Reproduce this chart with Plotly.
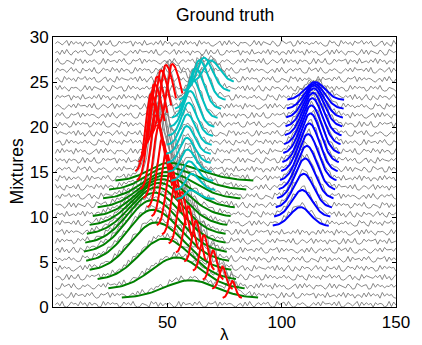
import numpy as np
import plotly.graph_objects as go

# ---------------- data ----------------
LAMBDA = list(range(1, 151))          # wavelength samples
MIXTURE_ROWS = list(range(0, 30))     # gray observed mixtures (offset rows)
GRAY_BASE_OFFSET = 0.3

# hand-typed noise digits (0-9) used for the observed gray spectra
NOISE_DIGITS = (
    "4729103856294718365019384756028473920165"
    "3095817264730291845628493017569183746520"
    "4618293057375820194682930164751047382956"
    "6382910475259183746074650291833910284756"
    "8074619235273918460551829374609374610258"
    "1829374065640392817532850197467019384625"
    "4836201957209473618559374810268162093754"
    "37481926059207318465159372084"
)

# green component: mixtures 1..14
GREEN_MIX = [1, 2, 3, 4, 5, 6, 7, 8, 9, 10, 11, 12, 13, 14]
GREEN_CENTER = [60.0, 54.0, 48.5, 45.0, 43.5, 43.5, 44.5, 45.5, 46.5, 47.5, 48.5, 49.5, 50.0, 50.5]
GREEN_AMP = [1.97, 3.5, 4.6, 5.4, 5.8, 5.9, 5.7, 5.3, 4.8, 4.2, 3.6, 3.0, 2.5, 2.0]
GREEN_SIG_L = [11.1, 11.0, 10.7, 10.7, 10.7, 11.1, 11.3, 11.4, 11.3, 11.1, 10.7, 10.2, 9.4, 8.6]
GREEN_SIG_R = [11.0, 11.0, 11.7, 12.2, 12.4, 12.0, 11.5, 11.1, 11.0, 11.2, 11.5, 12.0, 12.8, 13.7]
GREEN_START = [30.1, 24.2, 19.5, 16.0, 14.5, 13.5, 14.1, 14.8, 16.0, 17.4, 19.5, 21.9, 24.5, 27.3]
GREEN_END = [89.7, 83.8, 80.0, 78.0, 77.0, 76.0, 75.5, 75.5, 76.2, 77.7, 79.5, 82.0, 84.5, 87.6]

# red component: mixtures 1..20
RED_MIX = list(range(1, 21))
RED_CENTER = [78.4, 74.1, 70.0, 66.0, 62.5, 59.2, 56.3, 53.7, 51.4, 49.4,
              47.6, 46.1, 44.8, 43.6, 42.9, 44.3, 45.5, 47.2, 49.3, 52.1]
RED_AMP = [1.9, 2.5, 3.3, 4.0, 4.6, 5.2, 5.8, 6.3, 6.8, 7.2,
           7.6, 8.0, 8.3, 8.6, 8.7, 8.8, 8.6, 8.3, 7.9, 7.0]
RED_SIG_L = [1.4, 1.5, 1.5, 1.6, 1.7, 1.8, 1.9, 2.0, 2.0, 2.1,
             2.1, 2.2, 2.2, 2.3, 2.3, 2.3, 2.3, 2.3, 2.3, 2.3]
RED_SIG_R = [1.4, 1.5, 1.6, 1.7, 1.8, 2.0, 2.2, 2.4, 2.6, 2.8,
             3.0, 3.2, 3.4, 3.6, 3.8, 4.0, 4.0, 4.0, 4.0, 4.0]
RED_START = [74.2, 69.6, 65.5, 61.2, 57.4, 53.8, 50.6, 47.7, 45.4, 43.1,
             41.3, 39.5, 38.2, 36.7, 36.0, 37.4, 38.6, 40.3, 42.4, 45.2]
RED_END = [82.6, 78.6, 74.5, 70.5, 67.0, 63.7, 60.8, 58.2, 55.9, 53.9,
           52.1, 50.6, 49.3, 48.1, 47.4, 48.8, 50.0, 51.7, 53.8, 56.6]

# cyan component: mixtures 12..25
CYAN_MIX = list(range(12, 26))
CYAN_CENTER = [60.0, 60.5, 59.5, 58.8, 58.5, 58.5, 58.8, 59.3, 60.0, 61.0, 62.3, 64.0, 66.0, 69.0]
CYAN_AMP = [1.0, 1.8, 2.2, 2.5, 2.8, 3.1, 3.4, 3.7, 4.0, 4.3, 4.5, 4.4, 3.7, 2.4]
CYAN_SIG_L = [2.0, 2.4, 2.6, 2.8, 2.9, 3.0, 3.0, 3.0, 3.0, 3.0, 3.0, 3.0, 3.0, 3.0]
CYAN_SIG_R = [3.5, 3.5, 3.5, 3.5, 3.5, 3.5, 3.5, 3.5, 3.5, 3.6, 3.7, 3.8, 3.8, 3.8]
CYAN_START = [54.0, 53.3, 51.7, 50.4, 49.8, 49.5, 49.8, 50.3, 51.0, 52.0, 53.3, 55.0, 57.0, 60.0]
CYAN_END = [70.6, 71.0, 70.0, 69.4, 69.0, 69.0, 69.4, 70.0, 70.6, 72.0, 73.5, 75.5, 77.5, 79.1]

# blue component: mixtures 9..23
BLUE_MIX = list(range(9, 24))
BLUE_CENTER = [108.2, 108.9, 109.6, 110.3, 111.0, 111.6, 112.1, 112.6, 113.0, 113.4,
               113.7, 114.0, 114.2, 114.4, 114.5]
BLUE_AMP = [2.1, 3.0, 3.8, 4.5, 4.9, 5.2, 5.4, 5.5, 5.4, 5.2, 4.8, 4.3, 3.6, 2.8, 2.0]
BLUE_SIG = [4.4] * 15
BLUE_START = [96.1, 96.7, 97.4, 98.0, 98.7, 99.3, 99.8, 100.3, 100.7, 101.1,
              101.4, 101.7, 102.0, 102.3, 102.5]
BLUE_END = [120.6, 121.3, 122.0, 122.7, 123.4, 124.0, 124.5, 125.0, 125.4, 125.8,
            126.2, 126.5, 126.8, 127.1, 127.3]

X_TICKS = [50, 100, 150]
Y_TICKS = [0, 5, 10, 15, 20, 25, 30]

COMPONENTS = [
    # name, colour, mixtures, centre, amp, sigL, sigR, start, end
    ("green", "#008000", GREEN_MIX, GREEN_CENTER, GREEN_AMP, GREEN_SIG_L, GREEN_SIG_R, GREEN_START, GREEN_END),
    ("red", "#FF0000", RED_MIX, RED_CENTER, RED_AMP, RED_SIG_L, RED_SIG_R, RED_START, RED_END),
    ("cyan", "#00BFBF", CYAN_MIX, CYAN_CENTER, CYAN_AMP, CYAN_SIG_L, CYAN_SIG_R, CYAN_START, CYAN_END),
    ("blue", "#0000FF", BLUE_MIX, BLUE_CENTER, BLUE_AMP, BLUE_SIG, BLUE_SIG, BLUE_START, BLUE_END),
]


def peak(x, c, a, sl, sr):
    x = np.asarray(x, dtype=float)
    s = np.where(x < c, sl, sr)
    return a * np.exp(-((x - c) ** 2) / (2 * s ** 2))


# ---------------- gray observed mixtures ----------------
lam = np.array(LAMBDA, dtype=float)
digits = np.array([int(d) for d in NOISE_DIGITS], dtype=float)
nd = len(digits)

gx, gy = [], []
for row in MIXTURE_ROWS:
    off = (row * 47) % nd
    idx = [(off + k) % nd for k in range(len(lam))]
    noise = (digits[idx] - 4.5) / 4.5 * 0.32
    signal = np.zeros_like(lam)
    for (_, _, mixes, cen, amp, sl, sr, st, en) in COMPONENTS:
        if row in mixes:
            j = mixes.index(row)
            signal += peak(lam, cen[j], amp[j], sl[j], sr[j])
    gx += list(lam) + [None]
    gy += list(row + GRAY_BASE_OFFSET + noise + signal) + [None]

fig = go.Figure()
fig.add_trace(go.Scatter(x=gx, y=gy, mode="lines", line=dict(color="#7a7a7a", width=0.9),
                         hoverinfo="skip", showlegend=False))

for (name, col, mixes, cen, amp, sl, sr, st, en) in COMPONENTS:
    cx, cy = [], []
    for j, m in enumerate(mixes):
        xs = np.linspace(st[j], en[j], 60)
        ys = m + peak(xs, cen[j], amp[j], sl[j], sr[j])
        cx += list(xs) + [None]
        cy += list(ys) + [None]
    fig.add_trace(go.Scatter(x=cx, y=cy, mode="lines", line=dict(color=col, width=2),
                             name=name, hoverinfo="skip", showlegend=False))

FONT = "Liberation Sans, Arial, Helvetica, sans-serif"
axis_common = dict(showline=True, linecolor="black", linewidth=1, mirror="ticks",
                   ticks="inside", ticklen=4, tickcolor="black", showgrid=False,
                   zeroline=False, tickfont=dict(family=FONT, size=17, color="black"))
fig.update_xaxes(range=[0, 150], tickvals=X_TICKS, ticktext=[str(v) for v in X_TICKS], **axis_common)
fig.update_yaxes(range=[0, 30], tickvals=Y_TICKS, ticktext=[str(v) for v in Y_TICKS], **axis_common)

# annotation pixel positions converted to paper coordinates
L, R, T, B = 53, 17, 37, 38
pw, ph = 422 - L - R, 345 - T - B


def px(xp):
    return (xp - L) / pw


def py(yp):
    return (345 - B - yp) / ph


fig.update_layout(
    width=422, height=345, autosize=False,
    margin=dict(l=L, r=R, t=T, b=B),
    paper_bgcolor="white", plot_bgcolor="white",
    showlegend=False,
    annotations=[
        dict(text="Ground truth", x=px(229), y=py(15.5), xref="paper", yref="paper",
             xanchor="center", yanchor="middle", showarrow=False,
             font=dict(family=FONT, size=17.5, color="black")),
        dict(text="Mixtures", x=px(16), y=py(171.5), xref="paper", yref="paper",
             xanchor="center", yanchor="middle", showarrow=False, textangle=-90,
             font=dict(family=FONT, size=17.5, color="black")),
        dict(text="λ", x=px(228.5), y=py(334), xref="paper", yref="paper",
             xanchor="center", yanchor="middle", showarrow=False,
             font=dict(family=FONT, size=17, color="black")),
    ],
)

fig.write_html("out.html")
